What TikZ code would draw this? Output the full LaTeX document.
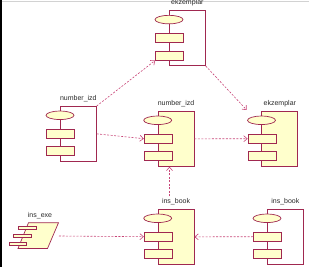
\documentclass[tikz,border=0pt]{standalone}
\usepackage{fontspec}
\setmainfont{Liberation Sans}
\usetikzlibrary{arrows.meta,shapes.geometric}
\definecolor{edge}{RGB}{160,40,80}
\definecolor{fillY}{RGB}{255,255,204}
\definecolor{conn}{RGB}{200,70,120}
\definecolor{txt}{RGB}{40,40,40}
\tikzset{
 body/.style={draw=edge, line width=0.7pt, minimum width=36pt, minimum height=55pt, inner sep=0, anchor=north west},
 filledbody/.style={body, fill=fillY},
 port/.style={draw=edge, line width=0.7pt, fill=fillY, minimum width=28pt, minimum height=9pt, inner sep=0},
 ell/.style={ellipse, draw=edge, line width=0.7pt, fill=fillY, minimum width=28pt, minimum height=8.5pt, inner sep=0},
 lbl/.style={font=\fontsize{7pt}{8pt}\selectfont, text=txt, inner sep=0},
 dep/.style={draw=conn, line width=0.6pt, dash pattern=on 2pt off 1.5pt, -{Straight Barb[length=3.5pt,width=6pt,line width=0.6pt]}}
}
\newcommand\umlcomp[5]{%
 \node[#4] (#1b) at (#2,#3) {};
 \node[ell] (#1e) at ([yshift=-9.3pt]#1b.north west) {};
 \node[port] (#1r1) at ([xshift=0.5pt,yshift=-27.7pt]#1b.north west) {};
 \node[port] (#1r2) at ([xshift=0.5pt,yshift=-45.3pt]#1b.north west) {};
 \node[lbl] (#1l) at ([yshift=7.3pt]#1b.north) {#5};
}
\begin{document}
\begin{tikzpicture}[x=1pt,y=-1pt]
\useasboundingbox (0,0) rectangle (309,267);
\fill[black] (0,0) rectangle (1.8,267);
\draw[gray!35, line width=0.8pt] (1.8,1.2) -- (309,1.2);
% components
\umlcomp{topE}{169}{10.3}{body}{ekzemplar}
\umlcomp{leftN}{60}{106}{body}{number\_izd}
\umlcomp{midN}{157.7}{111}{filledbody}{number\_izd}
\umlcomp{rightE}{261.5}{111}{filledbody}{ekzemplar}
\umlcomp{midB}{157.7}{209}{filledbody}{ins\_book}
\umlcomp{rightB}{267}{209}{body}{ins\_book}
% executable
\draw[edge, line width=0.7pt, fill=fillY] (28.5,222.7) -- (58.5,222.7) -- (47.5,248.5) -- (18,248.5) -- cycle;
\foreach \x/\y in {18.5/226, 13.5/234.3, 9/242}{
  \draw[edge, line width=0.7pt, fill=fillY] (\x,\y) rectangle ++(17.5,3.5);
}
\node[lbl] (exel) at (40,215.7) {ins\_exe};
\coordinate (exeR) at (59,236);
% free ends
\coordinate (rEtip) at (246.7,110);
\coordinate (bTop) at (169.5,196.5);
% dependencies
\draw[dep] (leftNb.north east) -- (topEr2.south west);
\draw[dep] (topEb.south east) -- (rEtip);
\draw[dep] (leftNb.east) -- (midNr1.west);
\draw[dep] (midNb.east) -- (rightEr1.west);
\draw[dep] (bTop) -- (midNb.south -| bTop);
\draw[dep] (exeR) -- (midBr1.west);
\draw[dep] (rightBr1.west) -- (midBb.east);
\end{tikzpicture}
\end{document}
